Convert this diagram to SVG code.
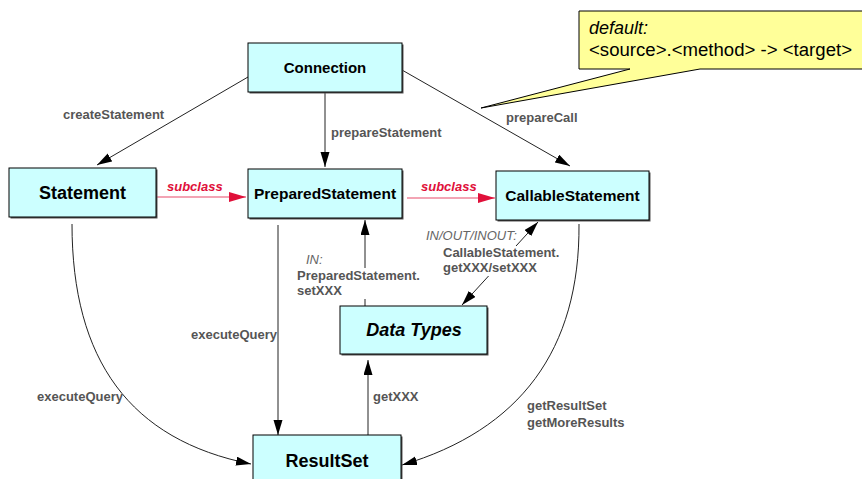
<svg xmlns="http://www.w3.org/2000/svg" width="862" height="479" viewBox="0 0 862 479">
<style>
.node rect.b{fill:#ccffff;stroke:#000;stroke-width:1}
.node rect.s{fill:#555}
.nt{font-family:"Liberation Sans",Arial,sans-serif;font-weight:bold;fill:#000;text-anchor:middle}
.lbl{font-family:"Liberation Sans",Arial,sans-serif;font-weight:bold;font-size:13px;fill:#555}
.it{font-family:"Liberation Sans",Arial,sans-serif;font-style:italic;font-size:13px;fill:#666}
.red{font-family:"Liberation Sans",Arial,sans-serif;font-style:italic;font-weight:bold;font-size:13px;fill:#e0103a}
.c{fill:none;stroke:#222;stroke-width:1}
.cr{fill:none;stroke:#e84a6a;stroke-width:1.2}
.note{font-family:"Liberation Sans",Arial,sans-serif;font-size:18px;fill:#000}
</style>
<defs>
<marker id="ah" markerUnits="userSpaceOnUse" markerWidth="16" markerHeight="10" refX="15" refY="4.5" orient="auto-start-reverse">
<path d="M0,0 L15,4.5 L0,9 z" fill="#000"/>
</marker>
<marker id="ar" markerUnits="userSpaceOnUse" markerWidth="18" markerHeight="11" refX="17" refY="5" orient="auto">
<path d="M0,0 L17,5 L0,10 z" fill="#e0103a"/>
</marker>
</defs>
<rect width="862" height="479" fill="#fff"/>

<g id="callout">
<path d="M579,11 H870 V69 H700 L481,108 L630,69 H579 Z" fill="#ffff99" stroke="#000" stroke-width="1"/>
<text class="note" x="589" y="34" font-style="italic">default:</text>
<text class="note" x="589" y="56" textLength="263" lengthAdjust="spacingAndGlyphs">&lt;source&gt;.&lt;method&gt; -&gt; &lt;target&gt;</text>
</g>

<g id="connectors">
<line class="c" x1="248" y1="77" x2="97" y2="165" marker-end="url(#ah)"/>
<line class="c" x1="325" y1="92" x2="325" y2="167" marker-end="url(#ah)"/>
<line class="c" x1="402" y1="70" x2="570" y2="166" marker-end="url(#ah)"/>
<line class="cr" x1="157" y1="197" x2="246" y2="197" marker-end="url(#ar)"/>
<line class="cr" x1="407" y1="198" x2="495" y2="198" marker-end="url(#ar)"/>
<path class="c" d="M72,224 C72,360 130,440 251,464" marker-end="url(#ah)"/>
<line class="c" x1="278" y1="225" x2="278" y2="435" marker-end="url(#ah)"/>
<path class="c" d="M579,224 C580,350 520,430 402,465" marker-end="url(#ah)"/>
<line class="c" x1="365" y1="306" x2="365" y2="220" marker-end="url(#ah)"/>
<line class="c" x1="462" y1="305" x2="538" y2="222" marker-start="url(#ah)" marker-end="url(#ah)"/>
<line class="c" x1="368" y1="435" x2="368" y2="360" marker-end="url(#ah)"/>
<rect x="294" y="268" width="128" height="31" fill="#fff"/>
<rect x="440" y="246" width="122" height="30" fill="#fff"/>
<text class="lbl" x="63" y="119">createStatement</text>
<text class="lbl" x="331" y="137">prepareStatement</text>
<text class="lbl" x="506" y="122">prepareCall</text>
<text class="red" x="167" y="191">subclass</text>
<text class="red" x="421" y="191">subclass</text>
<text class="lbl" x="277" y="339" text-anchor="end">executeQuery</text>
<text class="lbl" x="37" y="401">executeQuery</text>
<text class="it" x="306" y="264">IN:</text>
<text class="lbl" x="297" y="280">PreparedStatement.</text>
<text class="lbl" x="297" y="295">setXXX</text>
<text class="it" x="426" y="240">IN/OUT/INOUT:</text>
<text class="lbl" x="443" y="257">CallableStatement.</text>
<text class="lbl" x="443" y="272">getXXX/setXXX</text>
<text class="lbl" x="373" y="401">getXXX</text>
<text class="lbl" x="527" y="410">getResultSet</text>
<text class="lbl" x="527" y="427">getMoreResults</text>
</g>

<g id="Connection" class="node">
<rect class="s" x="249.5" y="44.5" width="154" height="49"/>
<rect class="b" x="248" y="43" width="154" height="49"/>
<text class="nt" x="325" y="73" font-size="15">Connection</text>
</g>
<g id="Statement" class="node">
<rect class="s" x="10.5" y="169.5" width="147" height="49"/>
<rect class="b" x="9" y="168" width="147" height="49"/>
<text class="nt" x="82.5" y="199" font-size="18">Statement</text>
</g>
<g id="PreparedStatement" class="node">
<rect class="s" x="249.5" y="170.5" width="154" height="49"/>
<rect class="b" x="248" y="169" width="154" height="49"/>
<text class="nt" x="325" y="199" font-size="15.5">PreparedStatement</text>
</g>
<g id="CallableStatement" class="node">
<rect class="s" x="497.5" y="172.5" width="153" height="49"/>
<rect class="b" x="496" y="171" width="153" height="49"/>
<text class="nt" x="572.5" y="201" font-size="15.5">CallableStatement</text>
</g>
<g id="DataTypes" class="node">
<rect class="s" x="341.5" y="307.5" width="147" height="48"/>
<rect class="b" x="340" y="306" width="147" height="48"/>
<text class="nt" x="414" y="336" font-size="18" font-style="italic">Data Types</text>
</g>
<g id="ResultSet" class="node">
<rect class="s" x="254.5" y="436.5" width="148" height="60"/>
<rect class="b" x="253" y="435" width="148" height="60"/>
<text class="nt" x="327" y="467" font-size="18">ResultSet</text>
</g>
</svg>
